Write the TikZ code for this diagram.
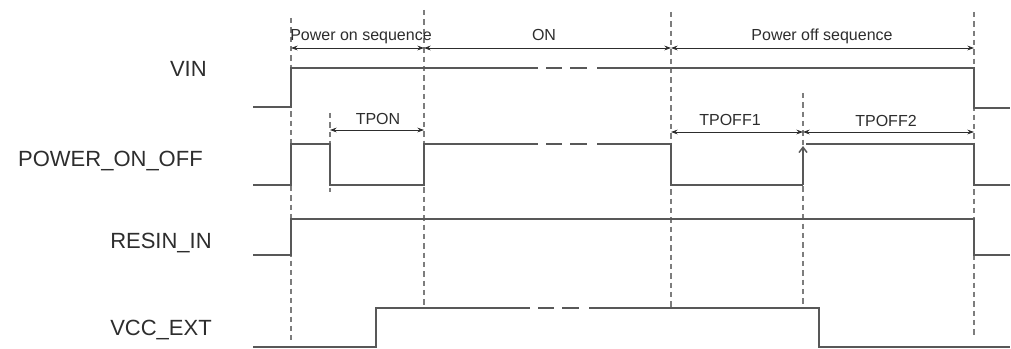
\documentclass[tikz,border=0pt]{standalone}
\usepackage{fontspec}
\setmainfont{Liberation Sans}
\usetikzlibrary{arrows.meta,positioning,calc}
\definecolor{wire}{RGB}{88,88,88}
\definecolor{guide}{RGB}{125,125,125}
\definecolor{ink}{RGB}{45,45,45}
\tikzset{
  >={Stealth[length=5pt,width=3.6pt]},
  sig/.style={draw=wire,line width=1.1pt},
  guideline/.style={draw=guide,line width=0.8pt,dash pattern=on 4pt off 3pt},
  span/.style={<->,draw=ink,line width=0.6pt},
  signame/.style={anchor=base east,text=ink,inner sep=0pt,
    font=\fontsize{16.5}{18}\selectfont},
  spanlabel/.style={anchor=base,text=ink,inner sep=0pt,
    font=\fontsize{12}{14}\selectfont},
  % break in a long high level
  pics/brk/.style={code={
    \draw[sig] (8,0) -- (24,0) (32,0) -- (49,0);
  }},
}
\begin{document}
\begin{tikzpicture}[x=0.75pt,y=-0.75pt]
  \useasboundingbox (0,0) rectangle (1011,349);
  \foreach \n/\x in {t1/291,t2/330,t4/424,t5/671,t6/803,t8/974}
    \coordinate (\n) at (\x,0);
  \coordinate (yseq) at (0,48);
  \coordinate (ytpon) at (0,130);
  \coordinate (ytpoff) at (0,132);

  % guides
  \foreach \t/\a/\b in {t1/18/340,t2/113/192,t4/10/308,t5/12/308,t6/93/308,t8/12/338}
    \draw[guideline] ($(\t)+(0,\a)$) -- ($(\t)+(0,\b)$);

  % signal names
  \node[signame] (vin) at (207,77) {VIN};
  \node[signame] (pwr) at (203,167) {POWER\_ON\_OFF};
  \node[signame] (resin) at (212,248) {RESIN\_IN};
  \node[signame] (vcc) at (212,335) {VCC\_EXT};

  % waveforms
  \draw[sig] (253,107) -| (291,68) -- (538,68) pic{brk} (597,68) -- (974,68) |- (1010,108);
  \draw[sig] (253,185) -| (291,144) -| (330,185) -| (424,144) -- (538,144) pic{brk}
    (597,144) -| (671,185) -- (803,185);
  \draw[sig,-{Straight Barb[length=4pt,width=6pt]}] (803,185) -- (803,146);
  \draw[sig] (806,144) -- (974,144) |- (1010,185);
  \draw[sig] (253,255) -| (291,219) -- (974,219) |- (1010,255);
  \draw[sig] (253,347) -| (376,308) -- (530,308) pic{brk} (589,308) -| (819,347) -- (1010,347);

  % spans
  \draw[span] (t1 |- yseq) -- (t4 |- yseq);
  \draw[span] (t4 |- yseq) -- (t5 |- yseq);
  \draw[span] (t5 |- yseq) -- (t8 |- yseq);
  \draw[span] (t2 |- ytpon) -- (t4 |- ytpon);
  \draw[span] (t5 |- ytpoff) -- (t6 |- ytpoff);
  \draw[span] (t6 |- ytpoff) -- (t8 |- ytpoff);
  \node[spanlabel] (seqon) at (361,41) {Power on sequence};
  \node[spanlabel] (onlbl) at (544,41) {ON};
  \node[spanlabel] (seqoff) at (822,41) {Power off sequence};
  \node[spanlabel] (tpon) at (378,125) {TPON};
  \node[spanlabel] (tpoff1) at (730,126) {TPOFF1};
  \node[spanlabel] (tpoff2) at (886,127) {TPOFF2};
\end{tikzpicture}
\end{document}
